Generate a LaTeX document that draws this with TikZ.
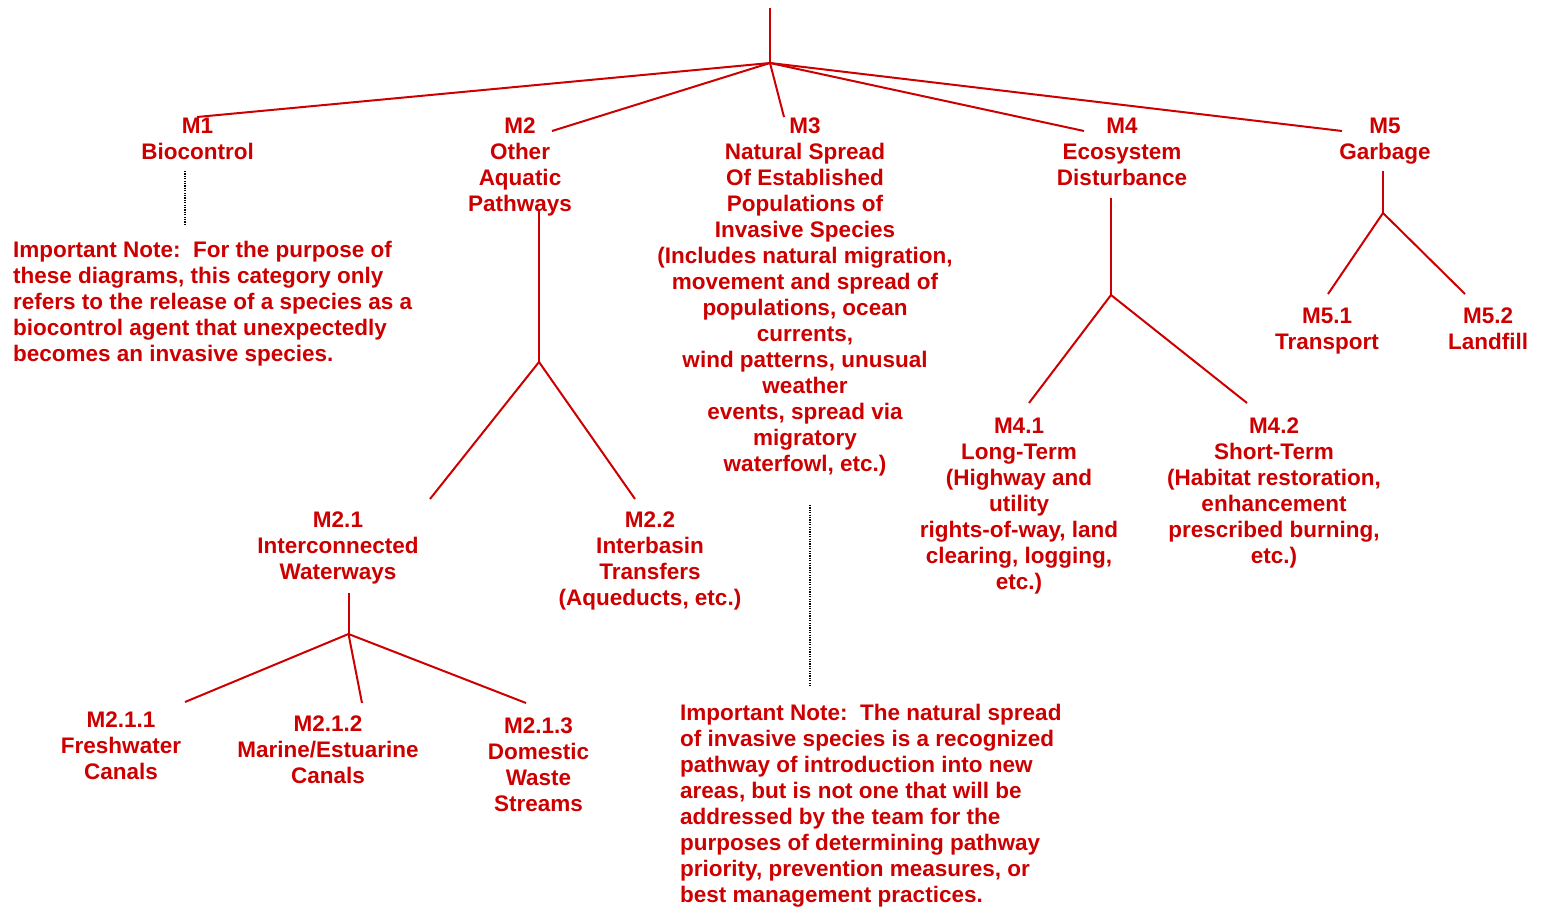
\documentclass[tikz,border=0pt]{standalone}
\usepackage{fontspec}
\setmainfont{Liberation Sans}
\definecolor{tred}{RGB}{204,0,0}
\begin{document}
\begin{tikzpicture}[x=1bp,y=-1bp,
  lbl/.style={text=tred, font=\bfseries\fontsize{22.5bp}{26bp}\selectfont, align=center, inner sep=0pt, anchor=north},
  note/.style={lbl, align=left, anchor=north west},
  link/.style={draw=tred, line width=2bp},
  dots/.style={draw=black, line width=1.2bp, dash pattern=on 1.2bp off 1.2bp}]
\useasboundingbox (0,0) rectangle (1545,908);

% labels
\node[lbl] (m1) at (197.5,118) {M1\\Biocontrol};
\node[lbl] (m2) at (520,118) {M2\\Other\\Aquatic\\Pathways};
\node[lbl] (m3) at (805,118) {M3\\Natural Spread\\Of Established\\Populations of\\Invasive Species\\(Includes natural migration,\\movement and spread of\\populations, ocean\\currents,\\wind patterns, unusual\\weather\\events, spread via\\migratory\\waterfowl, etc.)};
\node[lbl] (m4) at (1122,118) {M4\\Ecosystem\\Disturbance};
\node[lbl] (m5) at (1385,118) {M5\\Garbage};
\node[lbl] (m51) at (1327,308) {M5.1\\Transport};
\node[lbl] (m52) at (1488,308) {M5.2\\Landfill};
\node[lbl] (m41) at (1019,418) {M4.1\\Long-Term\\(Highway and\\utility\\rights-of-way, land\\clearing, logging,\\etc.)};
\node[lbl] (m42) at (1274,418) {M4.2\\Short-Term\\(Habitat restoration,\\enhancement\\prescribed burning,\\etc.)};
\node[lbl] (m21) at (338,512) {M2.1\\Interconnected\\Waterways};
\node[lbl] (m22) at (650,512) {M2.2\\Interbasin\\Transfers\\(Aqueducts, etc.)};
\node[lbl] (m211) at (121,712) {M2.1.1\\Freshwater\\Canals};
\node[lbl] (m212) at (328,716) {M2.1.2\\Marine/Estuarine\\Canals};
\node[lbl] (m213) at (538.5,718) {M2.1.3\\Domestic\\Waste\\Streams};
\node[note] (n1) at (13,241) {Important Note:~~For the purpose of\\these diagrams, this category only\\refers to the release of a species as a\\biocontrol agent that unexpectedly\\becomes an invasive species.};
\node[note] (n2) at (680,704) {Important Note:~~The natural spread\\of invasive species is a recognized\\pathway of introduction into new\\areas, but is not one that will be\\addressed by the team for the\\purposes of determining pathway\\priority, prevention measures, or\\best management practices.};

% connector points
\coordinate (top) at (770,8);
\coordinate (hub) at (770,63);
\coordinate (e1) at (197,117);
\coordinate (e2) at (552,131);
\coordinate (e3) at (784,117);
\coordinate (e4) at (1084,131);
\coordinate (e5) at (1342,131);
\coordinate (m2a) at (539,210);
\coordinate (m2h) at (539,362);
\coordinate (m2l) at (430,499);
\coordinate (m2r) at (635,499);
\coordinate (m21a) at (348.5,593);
\coordinate (m21h) at (348.5,634);
\coordinate (m21l) at (185,702);
\coordinate (m21m) at (362,703);
\coordinate (m21r) at (526,703);
\coordinate (m4a) at (1111,198);
\coordinate (m4h) at (1111,295);
\coordinate (m4l) at (1029,403);
\coordinate (m4r) at (1247,403);
\coordinate (m5a) at (1383,171);
\coordinate (m5h) at (1383,213);
\coordinate (m5l) at (1328,294);
\coordinate (m5r) at (1465,294);
\coordinate (d1a) at (185,171);
\coordinate (d1b) at (185,225);
\coordinate (d3a) at (810,505);
\coordinate (d3b) at (810,687);

% connectors
\draw[link] (top) -- (hub);
\draw[link] (hub) -- (e1);
\draw[link] (hub) -- (e2);
\draw[link] (hub) -- (e3);
\draw[link] (hub) -- (e4);
\draw[link] (hub) -- (e5);
\draw[link] (m2a) -- (m2h);
\draw[link] (m2h) -- (m2l);
\draw[link] (m2h) -- (m2r);
\draw[link] (m21a) -- (m21h);
\draw[link] (m21h) -- (m21l);
\draw[link] (m21h) -- (m21m);
\draw[link] (m21h) -- (m21r);
\draw[link] (m4a) -- (m4h);
\draw[link] (m4h) -- (m4l);
\draw[link] (m4h) -- (m4r);
\draw[link] (m5a) -- (m5h);
\draw[link] (m5h) -- (m5l);
\draw[link] (m5h) -- (m5r);
\draw[dots] (d1a) -- (d1b);
\draw[dots] (d3a) -- (d3b);
\end{tikzpicture}
\end{document}
